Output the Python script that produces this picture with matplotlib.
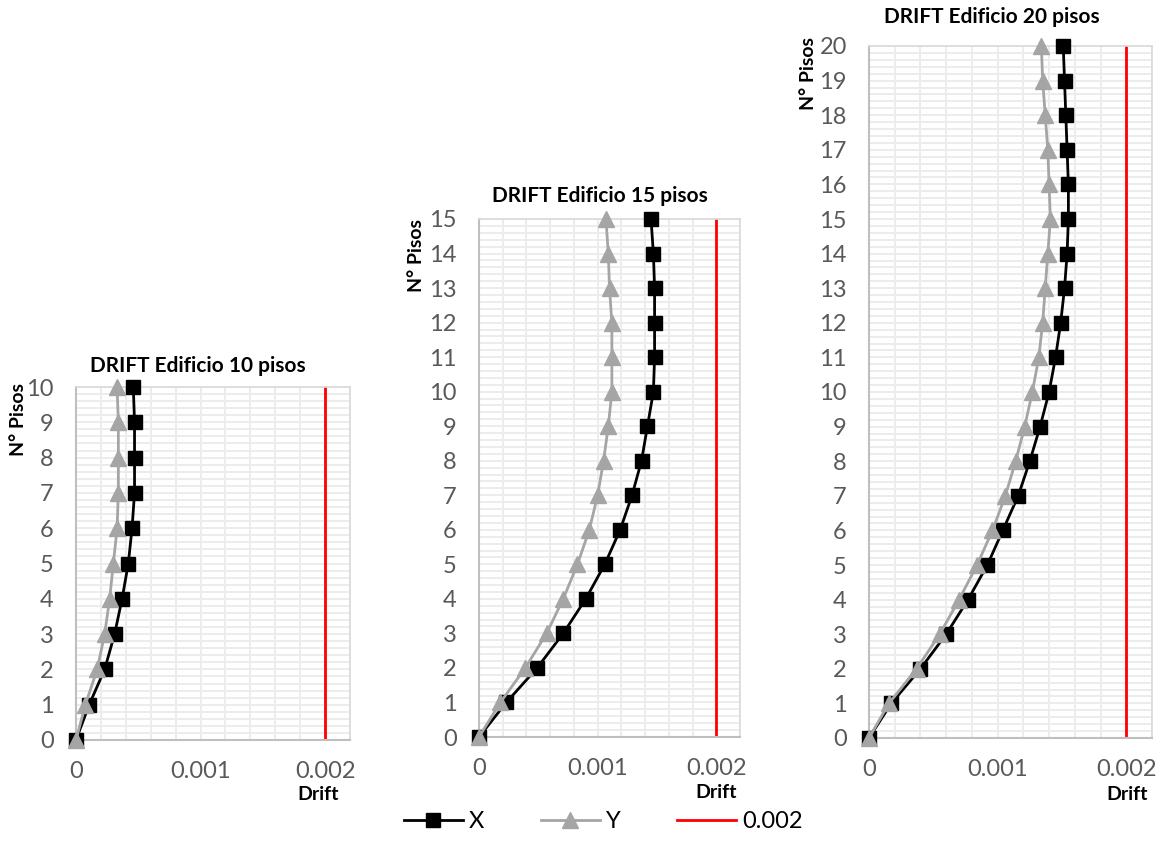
import matplotlib.pyplot as plt
from matplotlib.lines import Line2D
from matplotlib.ticker import MultipleLocator

plt.rcParams['font.family'] = ['Lato', 'DejaVu Sans']

# story drift per floor, X and Y directions
floors_10 = list(range(11))
drift_x_10 = [0, 0.000106, 0.00023, 0.00031, 0.00037, 0.00042, 0.00045,
              0.00047, 0.00047, 0.00047, 0.00046]
drift_y_10 = [0, 0.000075, 0.00017, 0.00023, 0.00027, 0.00030, 0.00033,
              0.00034, 0.00034, 0.00034, 0.00033]

floors_15 = list(range(16))
drift_x_15 = [0, 0.00023, 0.00049, 0.00071, 0.00090, 0.00106, 0.00119,
              0.00129, 0.00137, 0.00142, 0.00147, 0.00148, 0.00148,
              0.00148, 0.00147, 0.00145]
drift_y_15 = [0, 0.00018, 0.00039, 0.00057, 0.00071, 0.00083, 0.00093,
              0.00100, 0.00105, 0.00109, 0.00112, 0.00112, 0.00112,
              0.00110, 0.00109, 0.00107]

floors_20 = list(range(21))
drift_x_20 = [0, 0.000173, 0.00040, 0.00060, 0.00077, 0.00092, 0.00104,
              0.00116, 0.00125, 0.00133, 0.00140, 0.00145, 0.00149,
              0.00152, 0.00154, 0.00155, 0.00155, 0.00154, 0.00153,
              0.00152, 0.00151]
drift_y_20 = [0, 0.000155, 0.00037, 0.00055, 0.00070, 0.00084, 0.00096,
              0.00106, 0.00114, 0.00121, 0.00127, 0.00132, 0.00135,
              0.00137, 0.00139, 0.00141, 0.00140, 0.00139, 0.00137,
              0.00135, 0.00134]

limit = 0.002
x_ticks = [0, 0.001, 0.002]
x_tick_labels = ["0", "0.001", "0.002"]
titles = ["DRIFT Edificio 10 pisos", "DRIFT Edificio 15 pisos",
          "DRIFT Edificio 20 pisos"]

W, H = 1158, 861


def px(x, y):
    """Pixel position to figure fraction."""
    return x / W, 1 - y / H


def draw_panel(fig, rect, floors, dx, dy, title, title_xy, ylab_xy, xlab_xy):
    left, top, right, bottom = rect
    ax = fig.add_axes([left / W, 1 - bottom / H, (right - left) / W,
                       (bottom - top) / H])
    n = floors[-1]
    ax.set_xlim(0, 0.0022)
    ax.set_ylim(0, n)
    ax.xaxis.set_minor_locator(MultipleLocator(0.0002))
    ax.yaxis.set_minor_locator(MultipleLocator(0.2))
    ax.set_xticks(x_ticks)
    ax.set_xticklabels(x_tick_labels)
    ax.set_yticks(floors)
    ax.grid(which='both', color='#ececec', lw=1.4)
    ax.set_axisbelow(True)
    ax.tick_params(which='both', length=0)
    ax.tick_params(axis='x', pad=15, labelsize=17, labelcolor='#595959')
    ax.tick_params(axis='y', pad=16, labelsize=17, labelcolor='#595959')
    for side in ['left', 'bottom']:
        ax.spines[side].set_color('#bfbfbf')
        ax.spines[side].set_linewidth(1.5)
    for side in ['top', 'right']:
        ax.spines[side].set_color('#d9d9d9')
        ax.spines[side].set_linewidth(1.2)

    ax.plot(dx, floors, color='black', lw=2, marker='s', ms=10,
            clip_on=False, zorder=3)
    ax.plot(dy, floors, color='#a5a5a5', lw=2, marker='^', ms=11,
            clip_on=False, zorder=4)
    ax.axvline(limit, color='#ff0000', lw=2, zorder=2)

    fig.text(*px(*title_xy), title, ha='center', va='center',
             fontsize=15, fontweight='bold')
    fig.text(*px(*ylab_xy), "N° Pisos", ha='center', va='center',
             rotation=90, fontsize=14, fontweight='bold')
    fig.text(*px(*xlab_xy), "Drift", ha='center', va='center',
             fontsize=14, fontweight='bold')
    return ax


fig = plt.figure(figsize=(W / 100, H / 100), dpi=100)

draw_panel(fig, (76, 387, 350, 740), floors_10, drift_x_10, drift_y_10,
           titles[0], (198, 366), (18, 420), (318, 795))
draw_panel(fig, (479, 219, 740, 737), floors_15, drift_x_15, drift_y_15,
           titles[1], (600, 196), (416, 256), (716, 792))
draw_panel(fig, (869, 46, 1152, 738), floors_20, drift_x_20, drift_y_20,
           titles[2], (992, 17), (809, 74), (1127, 795))

handles = [
    Line2D([], [], color='black', lw=2, marker='s', ms=10),
    Line2D([], [], color='#a5a5a5', lw=2, marker='^', ms=11),
    Line2D([], [], color='#ff0000', lw=2),
]
fig.legend(handles, ["X", "Y", "0.002"], loc='center',
           bbox_to_anchor=px(603, 822), ncol=3, frameon=False,
           fontsize=17, handlelength=2.5, handletextpad=0.25,
           columnspacing=2.4)

fig.savefig("out.png", dpi=100)
